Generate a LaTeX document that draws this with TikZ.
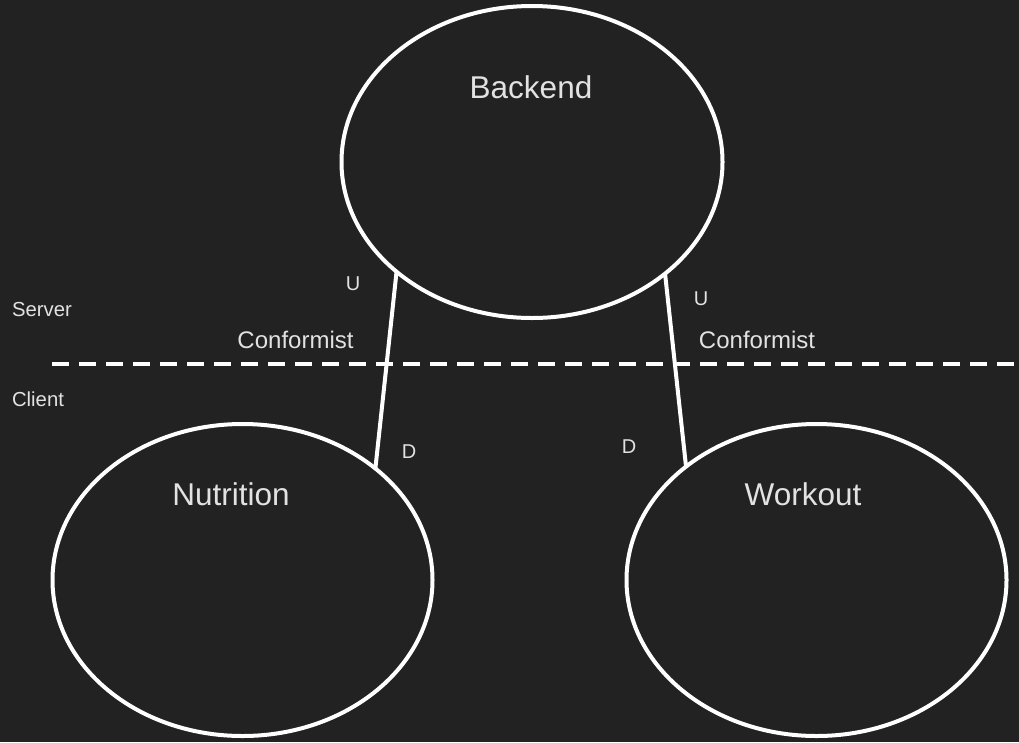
\documentclass[tikz,border=0pt]{standalone}
\usepackage{fontspec}
\setmainfont{Liberation Sans}
\usetikzlibrary{shapes.geometric}
\definecolor{bg}{HTML}{222222}
\definecolor{txt}{HTML}{E2E2E2}
\tikzset{
  ctx/.style={ellipse, draw=white, line width=4pt, inner sep=0pt, outer sep=0pt},
  big/.style={text=txt, font=\fontsize{31.5}{36}\selectfont},
  mid/.style={text=txt, font=\fontsize{24}{28}\selectfont},
  small/.style={text=txt, font=\fontsize{20.3}{24}\selectfont},
  tiny/.style={text=txt, font=\fontsize{20}{24}\selectfont},
  link/.style={draw=white, line width=4pt},
  sep/.style={draw=white, line width=3.5pt, dash pattern=on 17pt off 10pt}
}
\begin{document}
\begin{tikzpicture}[x=1pt,y=-1pt]
\fill[bg] (0,0) rectangle (1019,742);
\useasboundingbox (0,0) rectangle (1019,742);
\node[ctx, minimum width=381pt, minimum height=312pt] (backend) at (532,162) {};
\node[ctx, minimum width=380pt, minimum height=312pt] (nutrition) at (242.5,580) {};
\node[ctx, minimum width=380pt, minimum height=312pt] (workout) at (816.5,580) {};
\node[big] (lb) at (531,87) {Backend};
\node[big] (ln) at (231,494) {Nutrition};
\node[big] (lw) at (803,494) {Workout};
\coordinate (sl) at (52,364);
\coordinate (sr) at (1025,364);
\draw[sep] (sl) -- (sr);
\draw[link] (backend.219) -- (nutrition.40);
\draw[link] (backend.320) -- (workout.139.6);
\node[small] (server) at (42,310) {Server};
\node[small] (client) at (38,399) {Client};
\node[mid] (c1) at (295.5,340) {Conformist};
\node[mid] (c2) at (757,340) {Conformist};
\node[tiny] (u1) at (353,284) {U};
\node[tiny] (u2) at (701,299) {U};
\node[tiny] (d1) at (409,452) {D};
\node[tiny] (d2) at (629,447) {D};
\end{tikzpicture}
\end{document}
